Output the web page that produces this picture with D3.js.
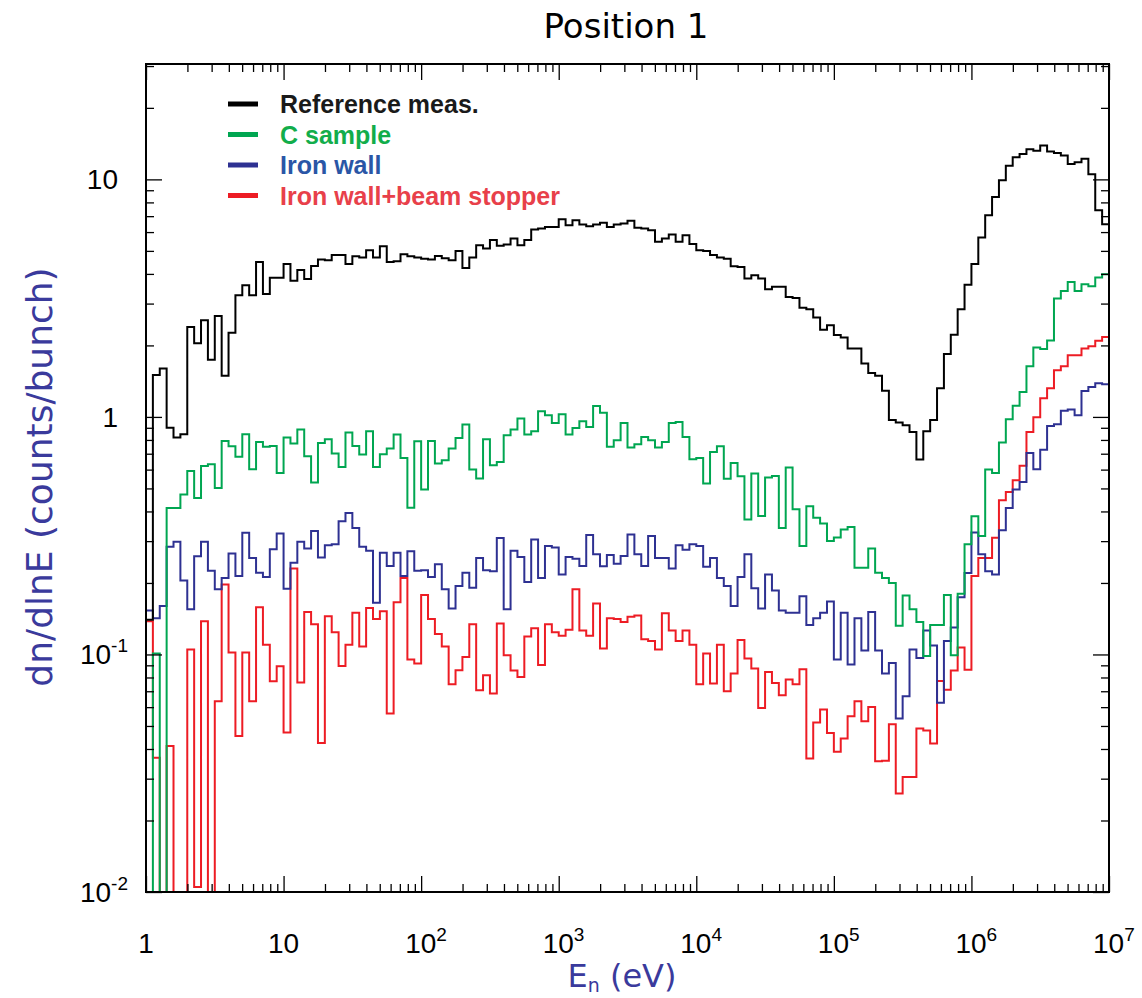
<!DOCTYPE html>
<html>
<head>
<meta charset="utf-8">
<script src="https://cdn.jsdelivr.net/npm/d3@7"></script>
<style>
  body { margin: 0; background: #fff; }
  svg { display: block; }
</style>
</head>
<body>
<svg id="chart"></svg>
<script>
// bins: 20 per decade from 1 eV to 10 MeV
var binsPerDecade = 20, nDecades = 7;

var refMeas = [0.14, 1.50, 1.60, 0.90, 0.82, 0.846, 2.39, 2.04, 2.55, 1.74,
  2.66, 1.49, 2.26, 3.25, 3.58, 3.25, 4.49, 3.29, 3.85, 3.85,
  4.40, 3.74, 4.15, 3.81, 4.32, 4.60, 4.57, 4.80, 4.80, 4.40,
  4.75, 4.69, 5.03, 4.69, 5.23, 4.49, 4.52, 4.84, 4.75, 4.69,
  4.63, 4.60, 4.76, 4.65, 4.57, 5.00, 4.24, 4.69, 5.28, 5.12,
  5.55, 5.25, 5.32, 5.64, 5.28, 5.55, 6.15, 6.21, 6.31, 6.31,
  6.80, 6.41, 6.73, 6.46, 6.35, 6.46, 6.56, 6.31, 6.46, 6.52,
  6.69, 6.25, 6.21, 6.11, 5.46, 5.64, 5.86, 5.46, 5.82, 5.34,
  5.03, 5.00, 4.80, 4.69, 4.63, 4.31, 4.28, 3.83, 3.95, 3.83,
  3.45, 3.53, 3.53, 3.20, 3.17, 2.88, 2.84, 2.62, 2.33, 2.43,
  2.21, 2.16, 1.94, 1.94, 1.68, 1.53, 1.49, 1.29, 0.97, 0.947,
  0.923, 0.865, 0.662, 0.87, 0.97, 1.32, 1.84, 2.22, 2.84, 3.60,
  4.40, 5.69, 7.07, 8.44, 9.92, 11.4, 12.4, 12.8, 13.4, 13.2,
  13.9, 13.1, 12.9, 12.6, 11.6, 11.8, 12.2, 10.5, 7.42, 6.48];

var cSample = [0, 0.101, 0, 0.414, 0.414, 0.471, 0.592, 0.456, 0.622, 0.632,
  0.502, 0.792, 0.753, 0.679, 0.846, 0.602, 0.785, 0.748, 0.755, 0.581,
  0.819, 0.773, 0.885, 0.683, 0.529, 0.777, 0.806, 0.701, 0.616, 0.86,
  0.755, 0.695, 0.871, 0.616, 0.697, 0.736, 0.843, 0.672, 0.415, 0.79,
  0.495, 0.792, 0.637, 0.657, 0.736, 0.816, 0.929, 0.60, 0.55, 0.806,
  0.626, 0.646, 0.838, 0.885, 0.985, 0.843, 0.871, 1.057, 1.016, 0.943,
  1.026, 0.843, 0.899, 0.959, 0.908, 1.112, 1.04, 0.748, 0.798, 0.943,
  0.743, 0.767, 0.824, 0.798, 0.743, 0.785, 0.943, 0.953, 0.824, 0.664,
  0.672, 0.524, 0.712, 0.753, 0.549, 0.64, 0.563, 0.37, 0.578, 0.383,
  0.556, 0.564, 0.341, 0.612, 0.409, 0.286, 0.421, 0.376, 0.356, 0.30,
  0.311, 0.336, 0.344, 0.232, 0.232, 0.279, 0.221, 0.21, 0.20, 0.132,
  0.177, 0.155, 0.137, 0.0985, 0.133, 0.133, 0.178, 0.0992, 0.18, 0.291,
  0.382, 0.315, 0.60, 0.581, 0.78, 0.978, 1.115, 1.274, 1.635, 1.96,
  1.93, 2.10, 3.15, 3.39, 3.70, 3.39, 3.62, 3.55, 3.86, 3.99];

var ironWall = [0.153, 0.142, 0.160, 0.284, 0.298, 0.205, 0.155, 0.259, 0.298, 0.225,
  0.188, 0.21, 0.266, 0.214, 0.325, 0.255, 0.221, 0.212, 0.277, 0.323,
  0.189, 0.243, 0.298, 0.279, 0.331, 0.256, 0.288, 0.291, 0.364, 0.394,
  0.341, 0.284, 0.273, 0.165, 0.268, 0.236, 0.268, 0.214, 0.272, 0.225,
  0.226, 0.212, 0.24, 0.188, 0.156, 0.194, 0.221, 0.191, 0.255, 0.226,
  0.224, 0.309, 0.155, 0.273, 0.257, 0.202, 0.305, 0.21, 0.286, 0.282,
  0.217, 0.257, 0.253, 0.236, 0.318, 0.264, 0.235, 0.262, 0.241, 0.26,
  0.32, 0.264, 0.236, 0.315, 0.255, 0.255, 0.23, 0.288, 0.276, 0.291,
  0.286, 0.234, 0.255, 0.21, 0.194, 0.16, 0.212, 0.264, 0.19, 0.156,
  0.217, 0.186, 0.153, 0.15, 0.15, 0.176, 0.133, 0.142, 0.150, 0.167,
  0.0952, 0.150, 0.0907, 0.142, 0.104, 0.151, 0.104, 0.0831, 0.0921, 0.0537,
  0.0667, 0.105, 0.0967, 0.126, 0.109, 0.0626, 0.114, 0.130, 0.174, 0.22,
  0.326, 0.264, 0.224, 0.217, 0.333, 0.414, 0.495, 0.532, 0.705, 0.602,
  0.727, 0.916, 0.932, 1.062, 1.074, 1.016, 1.287, 1.338, 1.387, 1.373];

var ironStopper = [0.138, 0.0367, 0, 0.0412, 0, 0, 0.105, 0.0105, 0.138, 0,
  0.0635, 0.197, 0.102, 0.0454, 0.102, 0.0635, 0.158, 0.110, 0.0771, 0.0892,
  0.0469, 0.23, 0.0762, 0.151, 0.134, 0.0424, 0.145, 0.124, 0.0895, 0.110,
  0.150, 0.108, 0.157, 0.141, 0.152, 0.0564, 0.166, 0.21, 0.0952, 0.0916,
  0.178, 0.141, 0.122, 0.108, 0.0749, 0.0858, 0.0976, 0.134, 0.0707, 0.0817,
  0.0685, 0.135, 0.0992, 0.0855, 0.0804, 0.119, 0.129, 0.0903, 0.134, 0.124,
  0.12, 0.127, 0.188, 0.126, 0.12, 0.164, 0.106, 0.142, 0.141, 0.137,
  0.144, 0.146, 0.116, 0.114, 0.105, 0.149, 0.126, 0.114, 0.126, 0.11,
  0.0749, 0.101, 0.0754, 0.11, 0.07, 0.0831, 0.115, 0.0961, 0.0873, 0.0595,
  0.0844, 0.0759, 0.0674, 0.0784, 0.0749, 0.0866, 0.0365, 0.0517, 0.0586, 0.0467,
  0.0389, 0.0443, 0.055, 0.0635, 0.0523, 0.0601, 0.0355, 0.0357, 0.0508, 0.026,
  0.0305, 0.0305, 0.0488, 0.0478, 0.0422, 0.0773, 0.071, 0.0855, 0.107, 0.0863,
  0.214, 0.255, 0.255, 0.31, 0.446, 0.483, 0.541, 0.623, 0.865, 0.997,
  1.199, 1.32, 1.573, 1.635, 1.82, 1.82, 1.94, 1.985, 2.09, 2.17];

var seriesNames = ["Reference meas.", "C sample", "Iron wall", "Iron wall+beam stopper"];
var seriesColors = ["#000000", "#00a651", "#2e3192", "#ed1c24"];
var legendColors = ["#1a1a1a", "#12ad4b", "#2a56a6", "#e8404a"];
var seriesData = [refMeas, cSample, ironWall, ironStopper];

var xMajor = [1, 10, 100, 1e3, 1e4, 1e5, 1e6, 1e7];
var yMajor = [0.01, 0.1, 1, 10];
var yMax = 30.6;

var margin = { top: 64, right: 33, bottom: 106, left: 146 },
    width = 1142 - margin.left - margin.right,
    height = 998 - margin.top - margin.bottom;

var svg = d3.select("#chart")
    .attr("width", 1142)
    .attr("height", 998);

var xScale = d3.scaleLog().domain([1, 1e7]).range([0, width]);
var yScale = d3.scaleLog().domain([0.01, yMax]).range([height, 0]);

var g = svg.append("g")
    .attr("transform", "translate(" + margin.left + "," + margin.top + ")");

g.append("clipPath").attr("id", "clip")
  .append("rect").attr("width", width).attr("height", height);

// histogram step paths
function edge(i) { return Math.pow(10, i / binsPerDecade); }
function yPix(v) { return v > 0 ? yScale(v) : height + 10; }

function stepPath(vals) {
  var p = d3.path();
  vals.forEach(function(v, i) {
    var x0 = xScale(edge(i)), x1 = xScale(edge(i + 1)), y = yPix(v);
    if (i === 0) p.moveTo(x0, y); else p.lineTo(x0, y);
    p.lineTo(x1, y);
  });
  return p.toString();
}

var plot = g.append("g").attr("clip-path", "url(#clip)");
[3, 2, 1, 0].forEach(function(s) {
  plot.append("path")
    .attr("d", stepPath(seriesData[s]))
    .attr("fill", "none")
    .attr("stroke", seriesColors[s])
    .attr("stroke-width", 2);
});

// minor + major ticks
var xTicks = [], yTicks = [];
xMajor.forEach(function(d, i) {
  xTicks.push(d);
  if (i < xMajor.length - 1) for (var k = 2; k < 10; k++) xTicks.push(d * k);
});
yMajor.forEach(function(d) {
  yTicks.push(d);
  for (var k = 2; k < 10; k++) if (d * k <= yMax) yTicks.push(d * k);
});

function isMajor(d) { return Math.abs(Math.log10(d) - Math.round(Math.log10(d))) < 1e-6; }

function styleTicks(sel, sign, vertical) {
  sel.select(".domain").remove();
  sel.selectAll(".tick line")
    .attr("stroke", "#000")
    .attr("stroke-width", 1.3)
    .each(function(d) {
      var len = isMajor(d) ? 16 : 8;
      d3.select(this).attr(vertical ? "x2" : "y2", sign * len);
    });
}

var xAxis = d3.axisBottom(xScale).tickValues(xTicks).tickFormat("");
var xTop = d3.axisTop(xScale).tickValues(xTicks).tickFormat("");
var yAxis = d3.axisLeft(yScale).tickValues(yTicks).tickFormat("");
var yRight = d3.axisRight(yScale).tickValues(yTicks).tickFormat("");

g.append("g").attr("transform", "translate(0," + height + ")").call(xAxis).call(styleTicks, -1, false);
g.append("g").call(xTop).call(styleTicks, 1, false);
g.append("g").call(yAxis).call(styleTicks, 1, true);
g.append("g").attr("transform", "translate(" + width + ",0)").call(yRight).call(styleTicks, -1, true);

g.append("rect")
  .attr("width", width).attr("height", height)
  .attr("fill", "none").attr("stroke", "#000").attr("stroke-width", 2);

// tick labels with superscripts
function addLabel(t, d) {
  var e = Math.round(Math.log10(d));
  if (e === 0) t.text("1");
  else if (e === 1) t.text("10");
  else {
    t.append("tspan").text("10");
    t.append("tspan").attr("font-size", 19).attr("dy", -12).text(e);
  }
}

g.selectAll(".xlab").data(xMajor).enter().append("text")
  .attr("class", "xlab")
  .attr("x", function(d) { return xScale(d); })
  .attr("y", height + 61)
  .attr("text-anchor", function(d) { return d >= 100 ? "start" : "middle"; })
  .attr("dx", function(d) { return d >= 100 ? -16 : 0; })
  .attr("font-family", "Liberation Sans, Arial, sans-serif")
  .attr("font-size", 28)
  .each(function(d) { addLabel(d3.select(this), d); });

g.selectAll(".ylab").data(yMajor).enter().append("text")
  .attr("class", "ylab")
  .attr("x", function(d) { return d < 1 ? -18 : -28; })
  .attr("y", function(d) { return yScale(d) + 10; })
  .attr("text-anchor", "end")
  .attr("font-family", "Liberation Sans, Arial, sans-serif")
  .attr("font-size", 28)
  .each(function(d) { addLabel(d3.select(this), d); });

// titles
svg.append("text")
  .attr("x", 626).attr("y", 38)
  .attr("text-anchor", "middle")
  .attr("font-family", "DejaVu Sans, sans-serif")
  .attr("font-size", 34)
  .text("Position 1");

var xt = svg.append("text")
  .attr("x", 622).attr("y", 987)
  .attr("text-anchor", "middle")
  .attr("font-family", "DejaVu Sans, sans-serif")
  .attr("font-size", 32)
  .attr("fill", "#3a3a9c");
xt.append("tspan").text("E");
xt.append("tspan").attr("font-size", 19).attr("dy", 5).text("n");
xt.append("tspan").attr("dy", -5).text(" (eV)");

svg.append("text")
  .attr("transform", "translate(52,477) rotate(-90)")
  .attr("text-anchor", "middle")
  .attr("font-family", "DejaVu Sans, sans-serif")
  .attr("font-size", 36)
  .attr("fill", "#3a3a9c")
  .text("dn/dlnE (counts/bunch)");

// legend
var legend = svg.append("g").attr("transform", "translate(228,104)");
seriesNames.forEach(function(name, i) {
  var row = legend.append("g").attr("transform", "translate(0," + (i * 30.5) + ")");
  row.append("line")
    .attr("x1", 0).attr("x2", 30)
    .attr("stroke", seriesColors[i]).attr("stroke-width", 5);
  row.append("text")
    .attr("x", 52).attr("y", 9)
    .attr("font-family", "Liberation Sans, Arial, sans-serif")
    .attr("font-weight", "bold")
    .attr("font-size", 25)
    .attr("fill", legendColors[i])
    .text(name);
});
</script>
</body>
</html>
